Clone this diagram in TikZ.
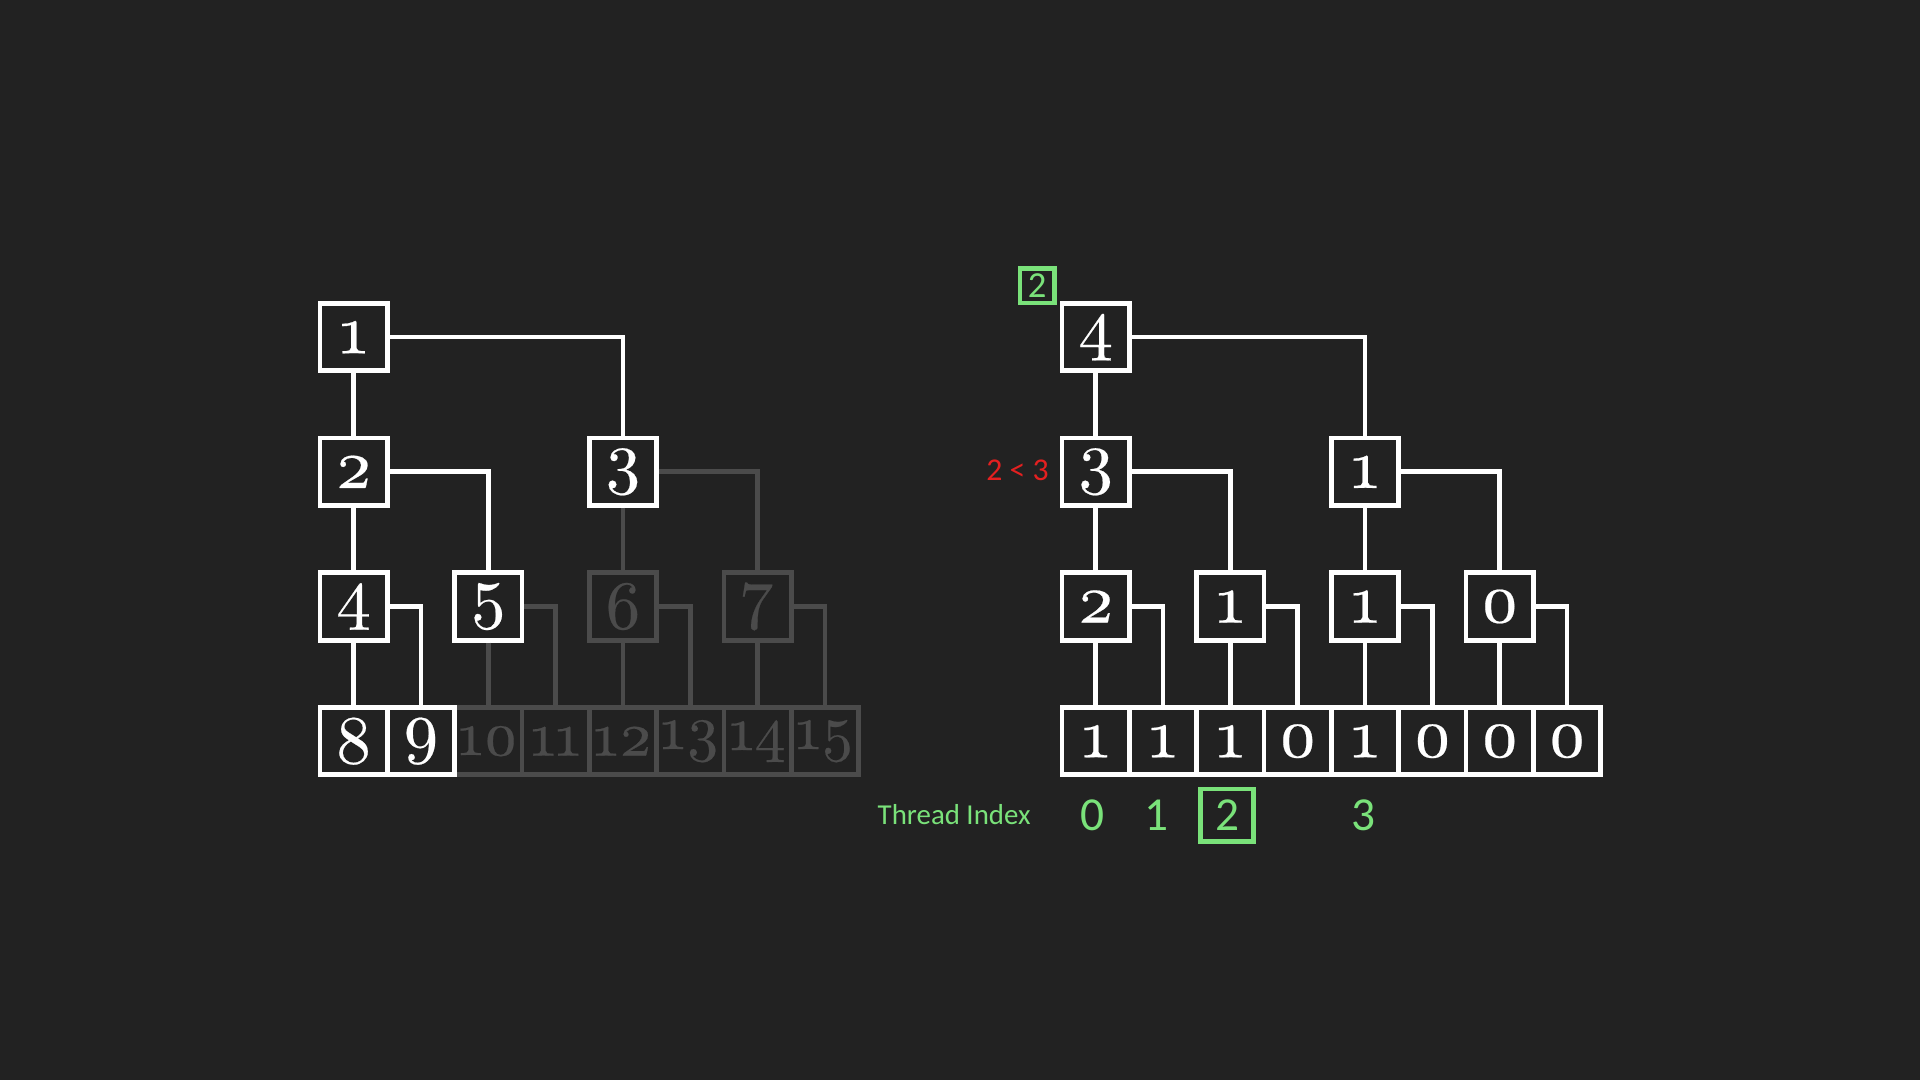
\documentclass[tikz,border=0pt]{standalone}
\usepackage{fontspec}
\newfontfamily\labelfont{Carlito}
\newfontfamily\digitfont{lmroman10-regular.otf}[Numbers=OldStyle, FakeBold=0.3]
\newcommand{\osn}[1]{#1}
\definecolor{bg}{HTML}{222222}
\definecolor{fadegray}{HTML}{4B4B4B}
\definecolor{idxgreen}{RGB}{122,226,122}
\definecolor{cmpred}{RGB}{228,32,32}
\tikzset{
  box/.style={draw=white, line width=2pt, fill=bg, text=white,
    minimum size=1cm, inner sep=0pt, font=\digitfont\bfseries\fontsize{29}{32}\selectfont},
  fadebox/.style={box, draw=fadegray, text=fadegray},
  twodigit/.style={font=\digitfont\bfseries\fontsize{26}{30}\selectfont},
  link/.style={draw=white, line width=2pt},
  fadelink/.style={link, draw=fadegray},
  greenbox/.style={draw=idxgreen, line width=2pt, text=idxgreen, inner sep=0pt},
}
\begin{document}
\begin{tikzpicture}
% Background
\fill[bg] (0,0) rectangle (28.51,16.036);

% Left tree: faded part first
\node[fadebox] (t6) at (9.25,7.03) {\osn{6}};
\node[fadebox] (t7) at (11.25,7.03) {\osn{7}};
\node[fadebox, twodigit] (t10) at (7.25,5.03) {\osn{10}};
\node[fadebox, twodigit] (t11) at (8.25,5.03) {\osn{11}};
\node[fadebox, twodigit] (t12) at (9.25,5.03) {\osn{12}};
\node[fadebox, twodigit] (t13) at (10.25,5.03) {\osn{13}};
\node[fadebox, twodigit] (t14) at (11.25,5.03) {\osn{14}};
\node[fadebox, twodigit] (t15) at (12.25,5.03) {\osn{15}};
% Left tree: white part
\node[box] (t1) at (5.25,11.03) {\osn{1}};
\node[box] (t2) at (5.25,9.03) {\osn{2}};
\node[box] (t3) at (9.25,9.03) {\osn{3}};
\node[box] (t4) at (5.25,7.03) {\osn{4}};
\node[box] (t5) at (7.25,7.03) {\osn{5}};
\node[box] (t8) at (5.25,5.03) {\osn{8}};
\node[box] (t9) at (6.25,5.03) {\osn{9}};
% Left tree links
\draw[fadelink] (t3.south) -- (t6.north);
\draw[fadelink] (t3.east) -| (t7.north);
\draw[fadelink] (t5.south) -- (t10.north);
\draw[fadelink] (t5.east) -| (t11.north);
\draw[fadelink] (t6.south) -- (t12.north);
\draw[fadelink] (t6.east) -| (t13.north);
\draw[fadelink] (t7.south) -- (t14.north);
\draw[fadelink] (t7.east) -| (t15.north);
\draw[link] (t1.south) -- (t2.north);
\draw[link] (t1.east) -| (t3.north);
\draw[link] (t2.south) -- (t4.north);
\draw[link] (t2.east) -| (t5.north);
\draw[link] (t4.south) -- (t8.north);
\draw[link] (t4.east) -| (t9.north);

% Right tree
\node[box] (r1) at (16.27,11.03) {\osn{4}};
\node[box] (r2) at (16.27,9.03) {\osn{3}};
\node[box] (r3) at (20.27,9.03) {\osn{1}};
\node[box] (r4) at (16.27,7.03) {\osn{2}};
\node[box] (r5) at (18.27,7.03) {\osn{1}};
\node[box] (r6) at (20.27,7.03) {\osn{1}};
\node[box] (r7) at (22.27,7.03) {\osn{0}};
\node[box] (r8) at (16.27,5.03) {\osn{1}};
\node[box] (r9) at (17.27,5.03) {\osn{1}};
\node[box] (r10) at (18.27,5.03) {\osn{1}};
\node[box] (r11) at (19.27,5.03) {\osn{0}};
\node[box] (r12) at (20.27,5.03) {\osn{1}};
\node[box] (r13) at (21.27,5.03) {\osn{0}};
\node[box] (r14) at (22.27,5.03) {\osn{0}};
\node[box] (r15) at (23.27,5.03) {\osn{0}};
% Right tree links
\draw[link] (r1.south) -- (r2.north);
\draw[link] (r1.east) -| (r3.north);
\draw[link] (r2.south) -- (r4.north);
\draw[link] (r2.east) -| (r5.north);
\draw[link] (r3.south) -- (r6.north);
\draw[link] (r3.east) -| (r7.north);
\draw[link] (r4.south) -- (r8.north);
\draw[link] (r4.east) -| (r9.north);
\draw[link] (r5.south) -- (r10.north);
\draw[link] (r5.east) -| (r11.north);
\draw[link] (r6.south) -- (r12.north);
\draw[link] (r6.east) -| (r13.north);
\draw[link] (r7.south) -- (r14.north);
\draw[link] (r7.east) -| (r15.north);

% Labels
\node[greenbox, minimum size=0.51cm, font=\labelfont\fontsize{15.5}{16}\selectfont] (sel) at (15.40,11.79) {2};
\node[text=cmpred, anchor=east, inner sep=0pt, font=\labelfont\fontsize{13.4}{14}\selectfont] (cmp) at (15.58,9.05) {2 < 3};
\node[text=idxgreen, anchor=east, inner sep=0pt, font=\labelfont\fontsize{12.2}{13}\selectfont] (idx) at (15.31,3.94) {Thread Index};
\node[text=idxgreen, font=\labelfont\fontsize{20}{22}\selectfont] (th0) at (16.22,3.93) {0};
\node[text=idxgreen, font=\labelfont\fontsize{20}{22}\selectfont] (th1) at (17.18,3.93) {1};
\node[greenbox, minimum size=0.78cm, font=\labelfont\fontsize{20}{22}\selectfont] (th2) at (18.22,3.93) {2};
\node[text=idxgreen, font=\labelfont\fontsize{20}{22}\selectfont] (th3) at (20.25,3.93) {3};
\end{tikzpicture}
\end{document}
